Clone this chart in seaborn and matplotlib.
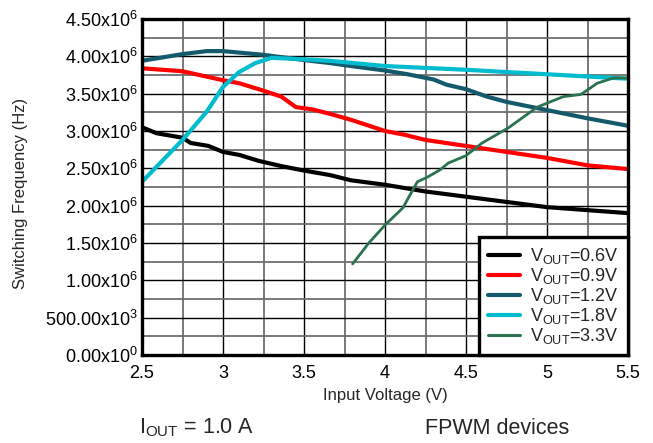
import numpy as np
import pandas as pd
import matplotlib
matplotlib.use("Agg")
import matplotlib.pyplot as plt
import seaborn as sns
from matplotlib.ticker import MultipleLocator

# ---- data (frequency in MHz, converted to Hz) ----
v06_x = [2.5, 2.59, 2.75, 2.80, 2.91, 3.0, 3.1, 3.22, 3.36, 3.5, 3.66, 3.79, 4.0, 4.25, 4.5, 4.75, 5.0, 5.25, 5.5]
v06_y = [3.05, 2.97, 2.91, 2.84, 2.80, 2.72, 2.68, 2.60, 2.53, 2.47, 2.41, 2.34, 2.28, 2.19, 2.12, 2.05, 1.98, 1.94, 1.90]

v09_x = [2.5, 2.75, 3.0, 3.1, 3.25, 3.36, 3.45, 3.55, 3.66, 3.79, 4.0, 4.12, 4.25, 4.5, 4.75, 5.0, 5.25, 5.5]
v09_y = [3.84, 3.80, 3.68, 3.64, 3.54, 3.46, 3.32, 3.29, 3.23, 3.15, 3.00, 2.95, 2.88, 2.80, 2.72, 2.64, 2.54, 2.49]

v12_x = [2.5, 2.75, 2.9, 3.0, 3.25, 3.5, 3.66, 3.79, 4.0, 4.14, 4.3, 4.38, 4.5, 4.63, 4.75, 5.0, 5.25, 5.5]
v12_y = [3.94, 4.03, 4.07, 4.07, 4.02, 3.95, 3.91, 3.87, 3.81, 3.76, 3.69, 3.62, 3.56, 3.46, 3.39, 3.28, 3.17, 3.07]

v18_x = [2.5, 2.75, 2.9, 3.0, 3.1, 3.2, 3.3, 3.5, 3.66, 4.0, 4.5, 5.0, 5.5]
v18_y = [2.32, 2.88, 3.26, 3.59, 3.79, 3.91, 3.98, 3.96, 3.94, 3.87, 3.82, 3.76, 3.70]

v33_x = [3.8, 3.9, 4.0, 4.11, 4.2, 4.26, 4.34, 4.39, 4.5, 4.6, 4.76, 4.94, 5.1, 5.21, 5.31, 5.41, 5.5]
v33_y = [1.22, 1.50, 1.74, 1.97, 2.32, 2.38, 2.48, 2.57, 2.67, 2.84, 3.04, 3.32, 3.46, 3.49, 3.64, 3.71, 3.71]

series_labels = [r"V$_{\mathrm{OUT}}$=0.6V", r"V$_{\mathrm{OUT}}$=0.9V", r"V$_{\mathrm{OUT}}$=1.2V",
                 r"V$_{\mathrm{OUT}}$=1.8V", r"V$_{\mathrm{OUT}}$=3.3V"]
series_colors = ["#000000", "#ff0000", "#155a6c", "#00bccf", "#2b7350"]
series_widths = [3.0, 3.0, 3.0, 3.0, 2.0]

x_ticks = [2.5, 3.0, 3.5, 4.0, 4.5, 5.0, 5.5]
x_tick_labels = ["2.5", "3", "3.5", "4", "4.5", "5", "5.5"]
y_ticks = [0, 0.5e6, 1.0e6, 1.5e6, 2.0e6, 2.5e6, 3.0e6, 3.5e6, 4.0e6, 4.5e6]
y_tick_labels = [r"0.00x10$^{0}$", r"500.00x10$^{3}$", r"1.00x10$^{6}$", r"1.50x10$^{6}$",
                 r"2.00x10$^{6}$", r"2.50x10$^{6}$", r"3.00x10$^{6}$", r"3.50x10$^{6}$",
                 r"4.00x10$^{6}$", r"4.50x10$^{6}$"]

rows = []
for lab, xs, ys in zip(series_labels, [v06_x, v09_x, v12_x, v18_x, v33_x],
                       [v06_y, v09_y, v12_y, v18_y, v33_y]):
    for xv, yv in zip(xs, ys):
        rows.append({"Vin": xv, "Freq": yv * 1e6, "series": lab})
df = pd.DataFrame(rows)

sns.set_theme(style="white")
plt.rcParams["font.family"] = ["Liberation Sans", "DejaVu Sans"]
plt.rcParams["mathtext.fontset"] = "custom"
plt.rcParams["mathtext.rm"] = "Liberation Sans"
plt.rcParams["mathtext.it"] = "Liberation Sans:italic"
plt.rcParams["mathtext.bf"] = "Liberation Sans:bold"

fig = plt.figure(figsize=(6.53, 4.43), dpi=100)
ax = fig.add_axes([142 / 653, 1 - 355 / 443, (628 - 142) / 653, (355 - 19) / 443])

for lab, col, lw in zip(series_labels, series_colors, series_widths):
    sub = df[df["series"] == lab]
    sns.lineplot(data=sub, x="Vin", y="Freq", color=col, linewidth=lw, ax=ax,
                 label=lab, sort=False, estimator=None, zorder=3)

ax.set_xlim(2.5, 5.5)
ax.set_ylim(0, 4.5e6)
ax.set_xticks(x_ticks)
ax.set_xticklabels(x_tick_labels)
ax.set_yticks(y_ticks)
ax.set_yticklabels(y_tick_labels)
ax.xaxis.set_minor_locator(MultipleLocator(0.25))
ax.yaxis.set_minor_locator(MultipleLocator(0.25e6))
ax.grid(which="major", color="#000000", linewidth=1.0, zorder=1)
ax.grid(which="minor", color="#6e6e6e", linewidth=1.3, zorder=1)
ax.set_axisbelow(True)
ax.tick_params(which="both", length=0, labelsize=13, colors="black")
ax.tick_params(axis="x", pad=7)
ax.tick_params(axis="y", pad=3)
for sp in ax.spines.values():
    sp.set_visible(True)
    sp.set_color("black")
    sp.set_linewidth(2.4)
    sp.set_zorder(5)

ax.set_xlabel("Input Voltage (V)", fontsize=12)
ax.set_ylabel("Switching Frequency (Hz)", fontsize=12)
ax.xaxis.set_label_coords(0.5, -0.122)
ax.yaxis.set_label_coords(-0.251, 0.482)
ax.xaxis.label.set_va("center")
ax.yaxis.label.set_va("center")

leg = ax.legend(loc="lower right", fontsize=13, frameon=True, fancybox=False,
                borderaxespad=0, handlelength=1.8, handletextpad=0.55,
                labelspacing=0.0, borderpad=0.5)
leg.get_frame().set_edgecolor("black")
leg.get_frame().set_linewidth(2.4)
leg.get_frame().set_facecolor("white")
leg.get_frame().set_alpha(1)
leg.set_zorder(6)
for h in leg.get_lines():
    h.set_linewidth(3.0)
leg.get_lines()[-1].set_linewidth(2.2)

fig.text(197 / 653, 1 - 428 / 443, r"I$_{\mathrm{OUT}}$ = 1.0 A", fontsize=15.5, ha="center", va="center")
fig.text(497 / 653, 1 - 428 / 443, "FPWM devices", fontsize=15.5, ha="center", va="center")

fig.savefig("out.png", dpi=100)
